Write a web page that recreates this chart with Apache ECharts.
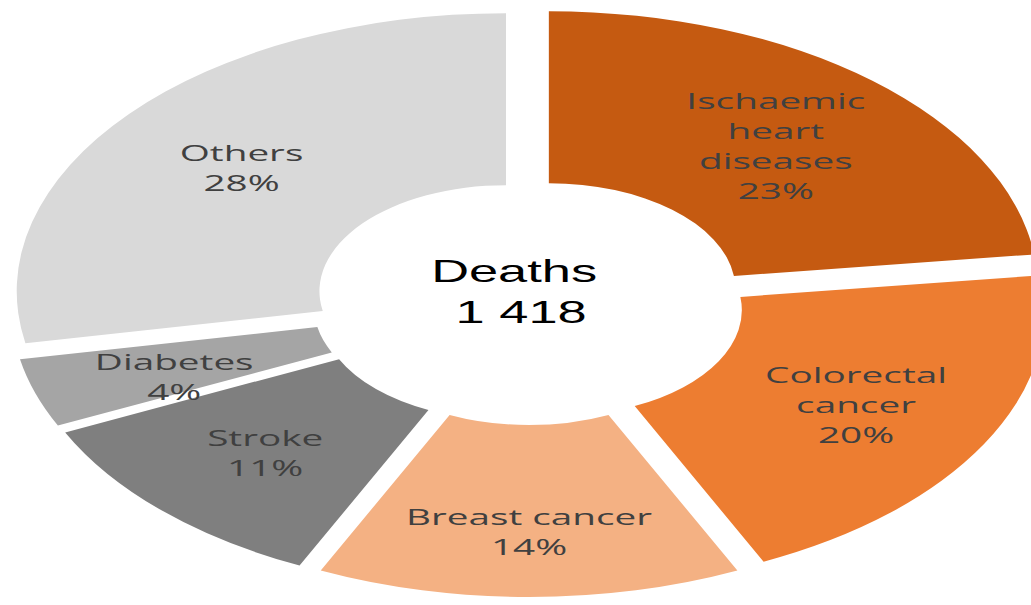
<!DOCTYPE html>
<html>
<head>
<meta charset="utf-8">
<script src="https://cdn.jsdelivr.net/npm/echarts@6/dist/echarts.min.js"></script>
<style>
html,body{margin:0;padding:0;background:#fff;overflow:hidden}
#wrap{width:1031px;height:605px;overflow:hidden;position:relative;background:#fff}
#chart{width:586px;height:605px;position:absolute;left:0;top:0;transform:scaleX(1.76);transform-origin:0 0}
</style>
</head>
<body>
<div id="wrap"><div id="chart"></div></div>
<script>
// ---- data ----
const categories = ['Ischaemic\nheart\ndiseases', 'Colorectal\ncancer', 'Breast cancer', 'Stroke', 'Diabetes', 'Others'];
const shares = [23, 20, 14, 11, 4, 28];
const centerLabel = 'Deaths';
const centerValue = '1 418';

// ---- styling ----
const palette = ['#C55A11', '#ED7D31', '#F4B183', '#7F7F7F', '#A5A5A5', '#D9D9D9'];
const labelOffsets = {'Breast cancer': [0, 17], 'Diabetes': [0, 9], 'Ischaemic\nheart\ndiseases': [0, 2]};

const chart = echarts.init(document.getElementById('chart'), null, {renderer: 'svg'});

const data = categories.map((name, i) => {
  const item = {name: name, value: shares[i], selected: true,
    itemStyle: {color: palette[i]}};
  if (labelOffsets[name]) {
    item.label = {offset: labelOffsets[name]};
    item.select = {label: {offset: labelOffsets[name]}};
  }
  return item;
});

const cx = 300.6, cy = 302;
const centerFont = '32px "Liberation Sans", Arial, sans-serif';

chart.setOption({
  animation: false,
  color: palette,
  graphic: [
    {type: 'text', x: cx - 8.5, y: 271, scaleX: 0.93,
     style: {text: centerLabel, fill: '#000', font: centerFont,
             textAlign: 'center', textVerticalAlign: 'middle'}},
    {type: 'text', x: cx - 4.5, y: 312, scaleX: 0.93,
     style: {text: centerValue, fill: '#000', font: centerFont,
             textAlign: 'center', textVerticalAlign: 'middle'}}
  ],
  series: [{
    type: 'pie',
    center: [cx, cy],
    radius: [106, 278],
    startAngle: 90,
    clockwise: true,
    selectedMode: 'multiple',
    selectedOffset: 17,
    avoidLabelOverlap: false,
    silent: true,
    itemStyle: {borderWidth: 0},
    label: {
      show: true,
      position: 'inside',
      formatter: p => p.name + '\n' + p.value + '%',
      fontFamily: '"Open Sans", sans-serif',
      fontSize: 22,
      lineHeight: 30,
      color: '#404040'
    },
    labelLine: {show: false},
    emphasis: {disabled: true},
    select: {itemStyle: {borderWidth: 0}, label: {color: '#404040'}},
    data: data
  }]
});
</script>
</body>
</html>
